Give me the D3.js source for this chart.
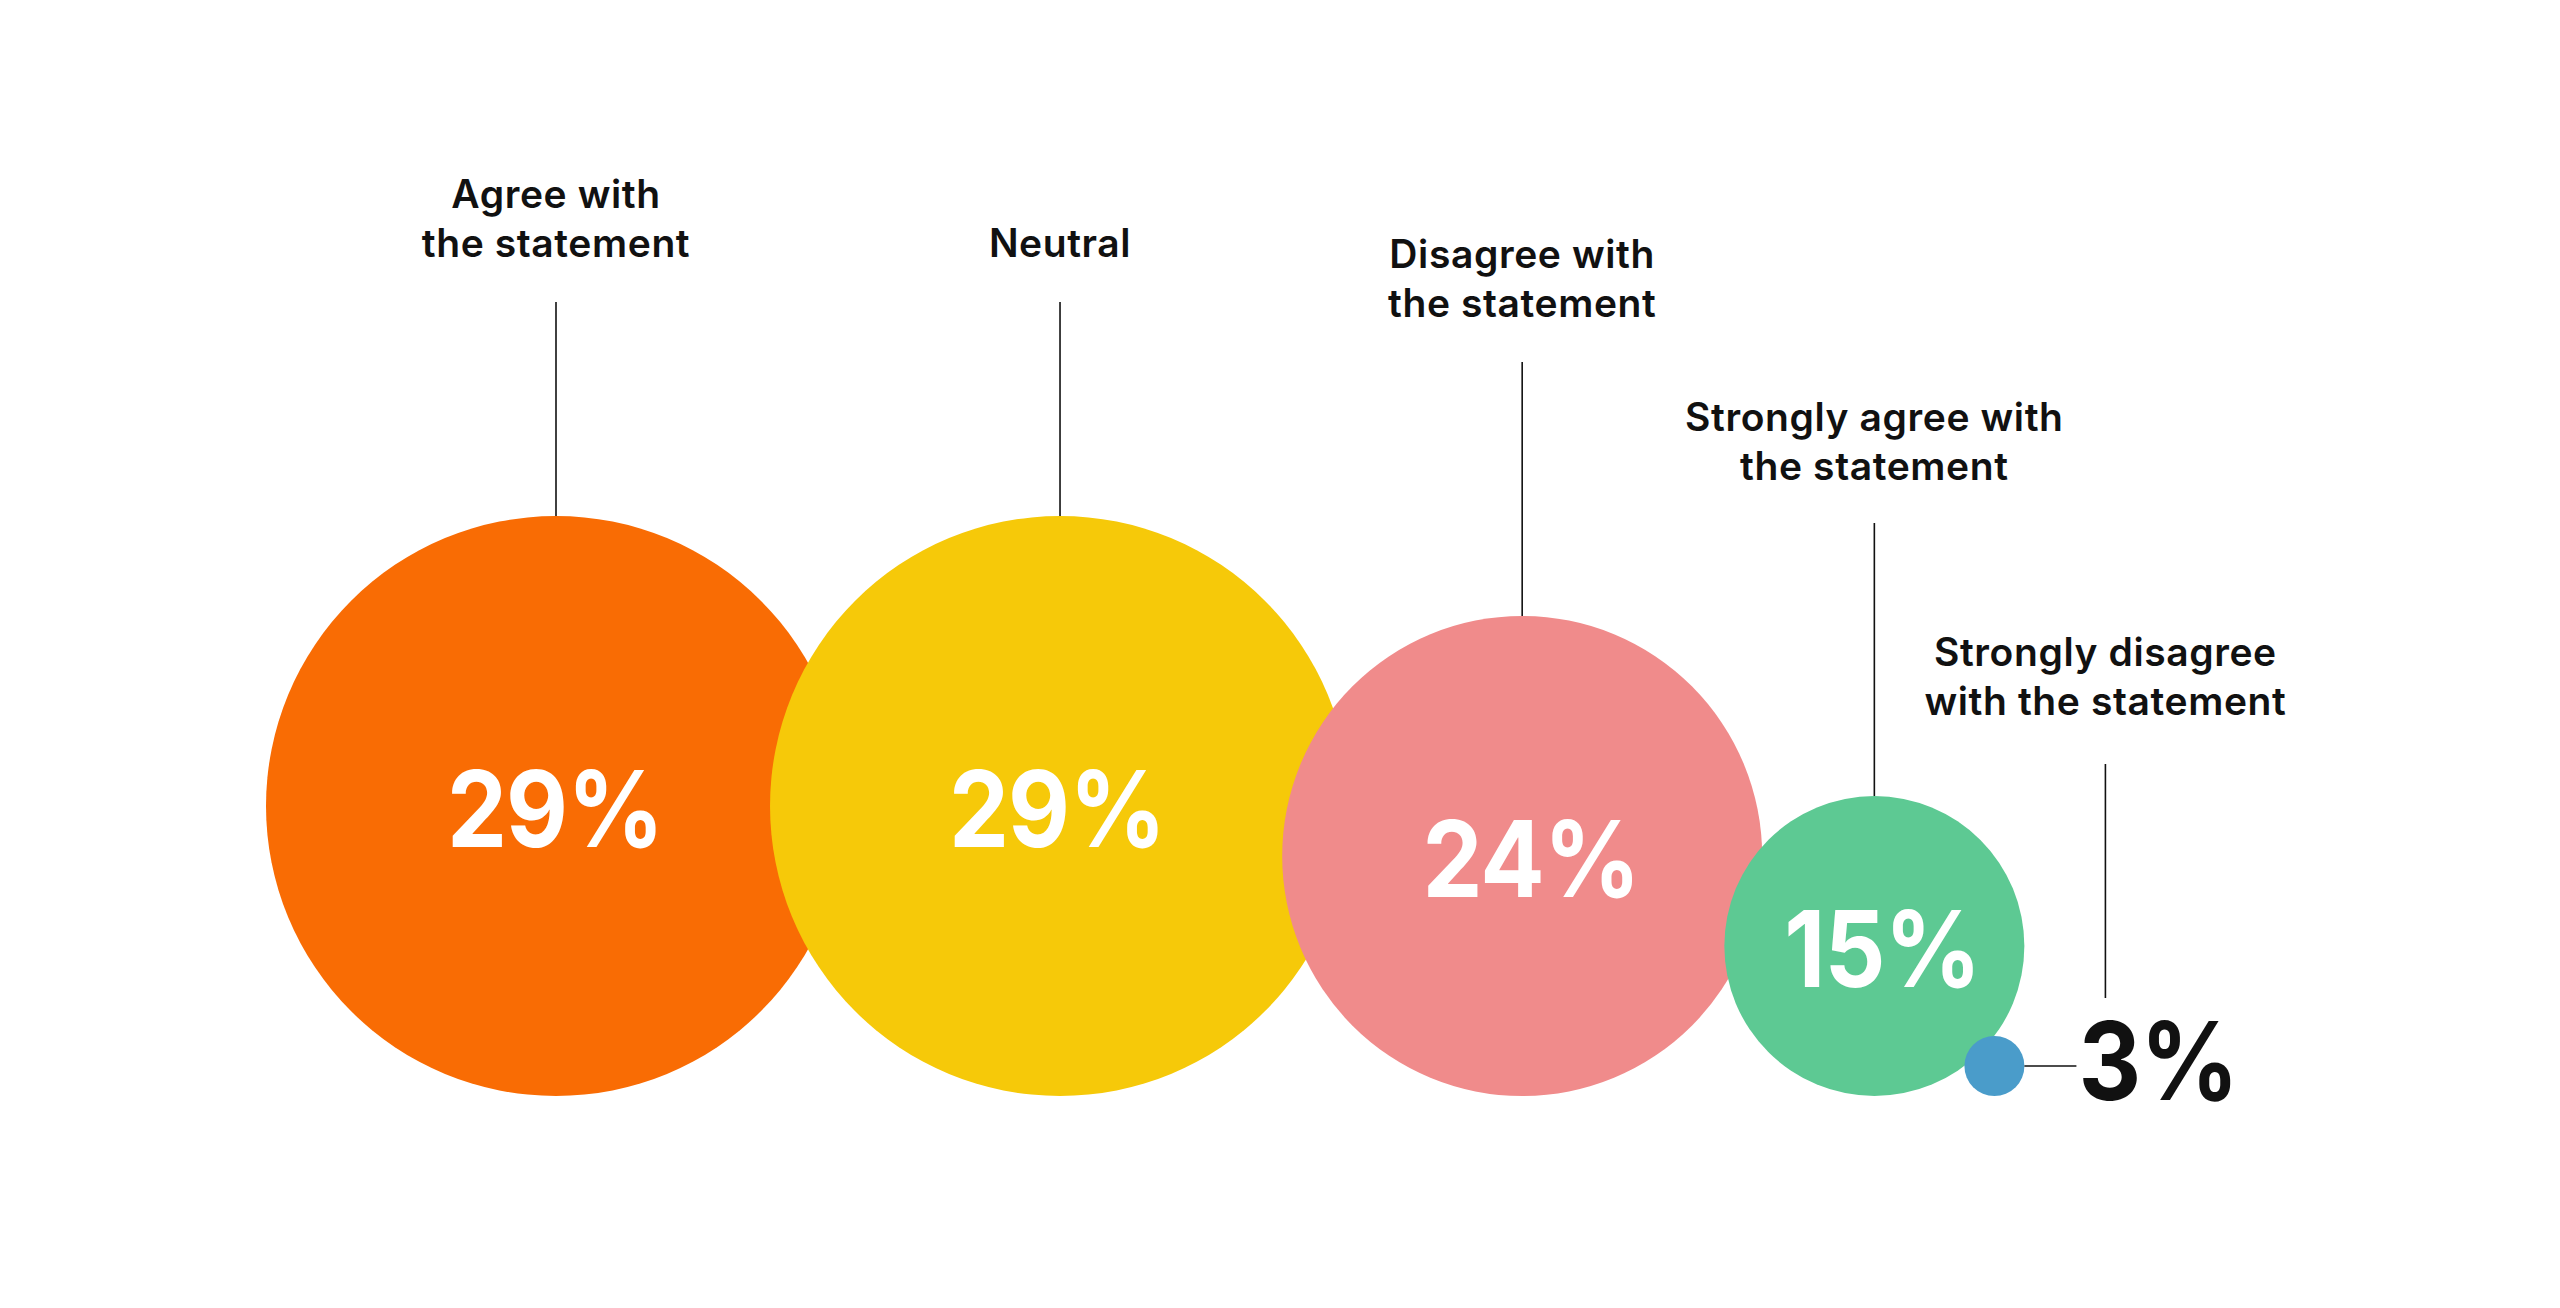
<!DOCTYPE html>
<html>
<head>
<meta charset="utf-8">
<script src="https://cdn.jsdelivr.net/npm/d3@7"></script>
<style>
  html, body { margin: 0; padding: 0; background: #ffffff; }
  svg { display: block; }
</style>
</head>
<body>
<svg id="chart" width="2560" height="1308"></svg>
<script>
// ---- data ----
const categories = [
  "Agree with the statement",
  "Neutral",
  "Disagree with the statement",
  "Strongly agree with the statement",
  "Strongly disagree with the statement"
];
const labelLines = [
  ["Agree with", "the statement"],
  ["Neutral"],
  ["Disagree with", "the statement"],
  ["Strongly agree with", "the statement"],
  ["Strongly disagree", "with the statement"]
];
const values = [29, 29, 24, 15, 3];
const valueLabels = ["29%", "29%", "24%", "15%", "3%"];
const colors = ["#F96C04", "#F6C909", "#F08B8B", "#5DC993", "#4A9CCA"];

// ---- layout ----
const W = 2560, H = 1308;
const baseY = 1096;            // circles share a common bottom
const startX = 556;            // centre of first circle
const packing = [0.869, 0.872, 0.903, 0.667]; // centre distance / (r1 + r2)
const leaderLen = [214, 214, 254, 273, 234];  // leader line lengths
const labelGaps = [45, 45, 45, 43, 49];
const numNudgeX = [-1, -3, 9, 8, 0];
const lineH = 49;
const labelFont = "Inter, 'Noto Sans', sans-serif";
const numScaleX = 0.9;

const svg = d3.select("#chart");
svg.append("rect").attr("width", W).attr("height", H).attr("fill", "#fff");

const r = d3.scaleLinear().domain([0, 29]).range([0, 290]);

const nodes = values.map((v, i) => ({ i, v, r: r(v), label: valueLabels[i], color: colors[i], lines: labelLines[i] }));
nodes.forEach((d, i) => {
  d.cx = i === 0 ? startX : nodes[i - 1].cx + (nodes[i - 1].r + d.r) * packing[i - 1];
  d.cy = baseY - d.r;
});

const g = svg.append("g");

g.selectAll("circle.bubble")
  .data(nodes)
  .join("circle")
  .attr("class", "bubble")
  .attr("cx", d => d.cx)
  .attr("cy", d => d.cy)
  .attr("r", d => d.r)
  .attr("fill", d => d.color);

// labels + leaders
const small = nodes[nodes.length - 1];
const valueTextX = small.cx + small.r + 59;

nodes.forEach((d, i) => {
  const isSmall = i === nodes.length - 1;
  const lx = isSmall ? valueTextX + 22 : d.cx;
  const lineBottom = isSmall ? d.cy - 68 : d.cy - d.r;
  const lineTop = lineBottom - leaderLen[i];
  g.append("line")
    .attr("x1", lx).attr("x2", lx)
    .attr("y1", lineTop).attr("y2", lineBottom)
    .attr("stroke", "#111").attr("stroke-width", 1.6);
  const lastBaseline = lineTop - labelGaps[i];
  const t = g.append("text")
    .attr("text-anchor", "middle")
    .attr("font-family", labelFont)
    .attr("font-weight", 600)
    .attr("font-size", 39)
    .attr("letter-spacing", 0.6)
    .attr("fill", "#111");
  d.lines.forEach((ln, k) => {
    t.append("tspan")
      .attr("x", lx)
      .attr("y", lastBaseline - (d.lines.length - 1 - k) * lineH)
      .text(ln);
  });
});

// value labels
nodes.forEach((d, i) => {
  const isSmall = i === nodes.length - 1;
  if (!isSmall) {
    g.append("text")
      .attr("transform", `translate(${d.cx + numNudgeX[i]},${d.cy + 41}) scale(${numScaleX},1)`)
      .attr("text-anchor", "middle")
      .attr("font-family", labelFont)
      .attr("font-weight", 700)
      .attr("font-size", 106)
      .attr("letter-spacing", -1)
      .attr("fill", "#fff")
      .text(d.label);
  } else {
    g.append("line")
      .attr("x1", d.cx + d.r).attr("x2", valueTextX - 7)
      .attr("y1", d.cy).attr("y2", d.cy)
      .attr("stroke", "#111").attr("stroke-width", 1.6);
    g.append("text")
      .attr("transform", `translate(${valueTextX - 5},${d.cy + 34}) scale(${numScaleX},1)`)
      .attr("text-anchor", "start")
      .attr("font-family", labelFont)
      .attr("font-weight", 700)
      .attr("font-size", 108)
      .attr("letter-spacing", -1)
      .attr("fill", "#111")
      .text(d.label);
  }
});
</script>
</body>
</html>
